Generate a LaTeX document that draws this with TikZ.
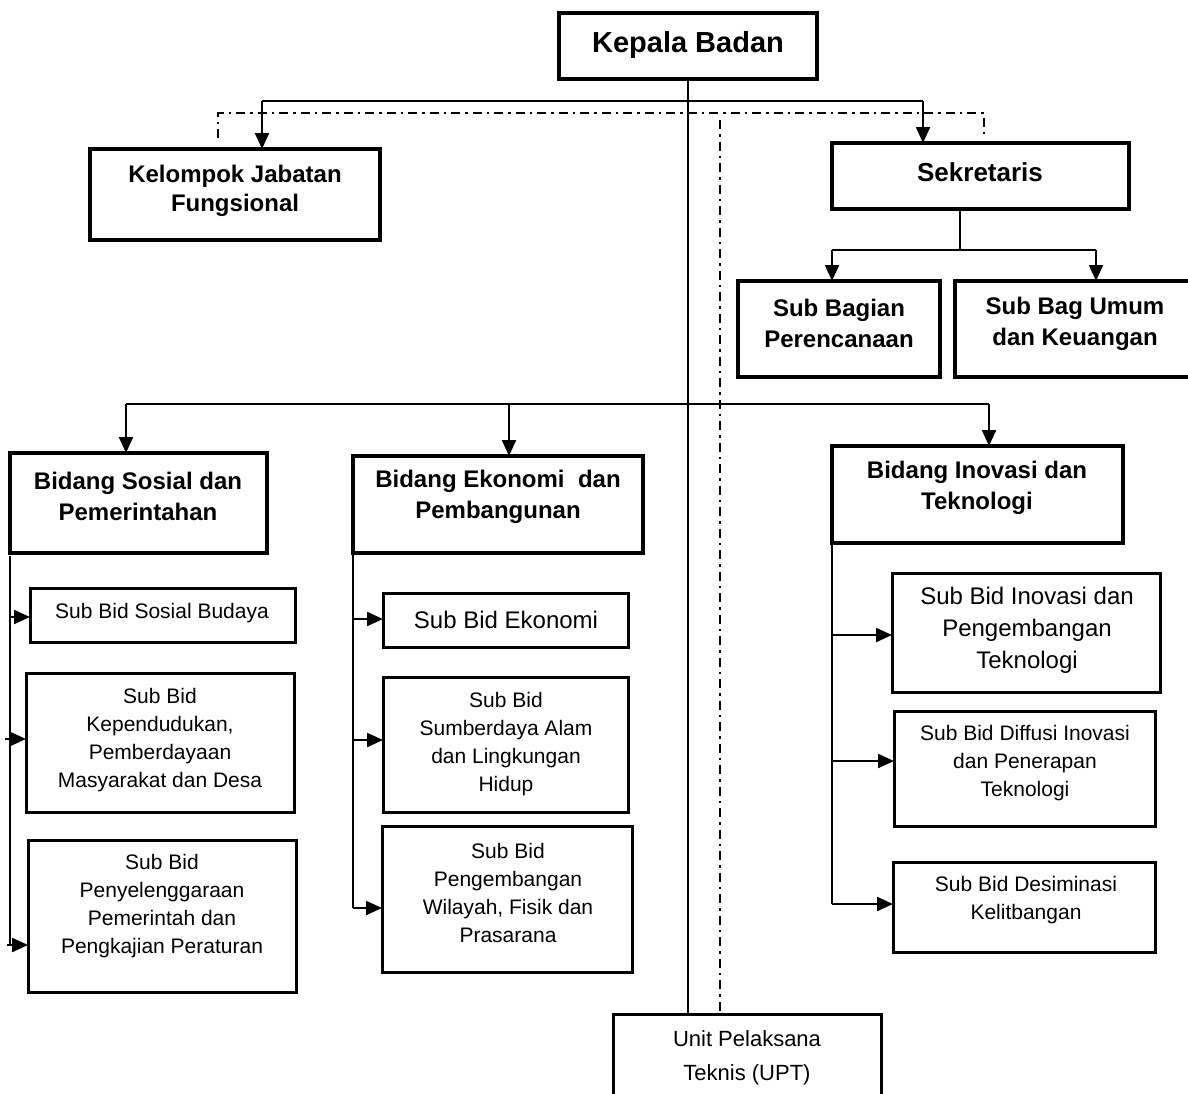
\documentclass[tikz,border=0pt]{standalone}
\usepackage{fontspec}
\setmainfont{Liberation Sans}
\usetikzlibrary{arrows.meta}
\newcommand{\orgbox}[6][]{\node[boxstyle,#1,anchor=north west,minimum width={#5-#3},minimum height={#6-#4}] (#2) at (#3,#4) {};}
\tikzset{
  boxstyle/.style={draw=black,line width=3.4pt,inner sep=0pt,outer sep=0pt,fill=white},
  conn/.style={draw=black,line width=2.2pt},
  arr/.style={conn,-{Triangle[length=16pt,width=14pt]}},
  dd/.style={draw=black,line width=2pt,dash pattern=on 9pt off 5pt on 2.5pt off 5pt},
  bt/.style={align=center,inner sep=0pt,font=\fontsize{24}{31}\selectfont\bfseries},
  rt/.style={align=center,inner sep=0pt,font=\fontsize{21}{28}\selectfont},
  rtl/.style={align=center,inner sep=0pt,font=\fontsize{24}{32}\selectfont},
}
\begin{document}
\begin{tikzpicture}[x=1pt,y=-1pt]
\useasboundingbox (0,0) rectangle (1188,1093);
\clip (0,0) rectangle (1188,1093);
\fill[white] (0,0) rectangle (1188,1093);

% connector coordinates
\coordinate (h1l) at (262,101);
\coordinate (h1r) at (923,101);
\coordinate (kjfin) at (262,149);
\coordinate (sekin) at (923,143);
\coordinate (ddl) at (218,138);
\coordinate (ddlt) at (218,113);
\coordinate (ddrt) at (984,113);
\coordinate (ddr) at (984,138);
\coordinate (ddv) at (720,120);
\coordinate (ddvb) at (720,1014);
\coordinate (sekout) at (960,209);
\coordinate (s2) at (960,250);
\coordinate (s2l) at (832,250);
\coordinate (s2r) at (1096,250);
\coordinate (sbpin) at (832,281);
\coordinate (sbuin) at (1096,281);
\coordinate (bl) at (126,404);
\coordinate (bm) at (509,404);
\coordinate (br) at (989,404);
\coordinate (bspin) at (126,453);
\coordinate (bepin) at (509,456);
\coordinate (bitin) at (989,446);
\coordinate (lv1) at (10,556);
\coordinate (lv2) at (10,945);
\coordinate (la1) at (10,617);
\coordinate (la2) at (5,739);
\coordinate (la3) at (7,945);
\coordinate (mv1) at (353,553);
\coordinate (mv2) at (353,908);
\coordinate (ma1) at (353,619);
\coordinate (ma2) at (353,740);
\coordinate (ma3) at (353,908);
\coordinate (rv1) at (832,543);
\coordinate (rv2) at (832,904);
\coordinate (ra1) at (832,635);
\coordinate (ra2) at (832,761);
\coordinate (ra3) at (832,904);

% boxes
\orgbox{kb}{559}{13}{817}{79}
\orgbox{kjf}{90}{149}{380}{240}
\orgbox[line width=4pt]{sek}{832}{143}{1129}{209}
\orgbox{sbp}{738}{281}{940}{377}
\orgbox{sbu}{955}{281}{1196}{377}
\orgbox{bsp}{10}{453}{267}{553}
\orgbox{bep}{353}{456}{643}{553}
\orgbox{bit}{832}{446}{1123}{543}
\orgbox[line width=3pt]{ssb}{30}{588}{295}{642}
\orgbox[line width=3pt]{skp}{26}{673}{294}{812}
\orgbox[line width=3pt]{spp}{28}{840}{296}{992}
\orgbox[line width=3pt]{sbe}{383}{593}{628}{647}
\orgbox[line width=3pt]{ssa}{383}{677}{628}{812}
\orgbox[line width=3pt]{spw}{382}{826}{632}{972}
\orgbox[line width=3pt]{sip}{892}{573}{1160}{692}
\orgbox[line width=3pt]{sdi}{894}{711}{1155}{826}
\orgbox[line width=3pt]{sdk}{893}{862}{1155}{952}
\orgbox[line width=3pt]{upt}{613}{1014}{881}{1120}

% connectors
\draw[conn] (kb.south) -- (kb.south |- upt.north);
\draw[conn] (h1l) -- (h1r);
\draw[arr] (h1l) -- (kjfin);
\draw[arr] (h1r) -- (sekin);
\draw[dd] (ddl) -- (ddlt) -- (ddrt) -- (ddr);
\draw[dd] (ddv) -- (ddvb);
\draw[conn] (sekout) -- (s2);
\draw[conn] (s2l) -- (s2r);
\draw[arr] (s2l) -- (sbpin);
\draw[arr] (s2r) -- (sbuin);
\draw[conn] (bl) -- (br);
\draw[arr] (bl) -- (bspin);
\draw[arr] (bm) -- (bepin);
\draw[arr] (br) -- (bitin);
\draw[conn] (lv1) -- (lv2);
\draw[arr] (la1) -- (la1 -| ssb.west);
\draw[arr] (la2) -- (la2 -| skp.west);
\draw[arr] (la3) -- (la3 -| spp.west);
\draw[conn] (mv1) -- (mv2);
\draw[arr] (ma1) -- (ma1 -| sbe.west);
\draw[arr] (ma2) -- (ma2 -| ssa.west);
\draw[arr] (ma3) -- (ma3 -| spw.west);
\draw[conn] (rv1) -- (rv2);
\draw[arr] (ra1) -- (ra1 -| sip.west);
\draw[arr] (ra2) -- (ra2 -| sdi.west);
\draw[arr] (ra3) -- (ra3 -| sdk.west);

% texts
\node[bt,font=\fontsize{29}{34}\selectfont\bfseries] (tkb) at (688,45) {Kepala Badan};
\node[bt,font=\fontsize{24}{29}\selectfont\bfseries] (tkjf) at (235,191) {Kelompok Jabatan\\Fungsional};
\node[bt,font=\fontsize{26}{31}\selectfont\bfseries] (tsek) at (980,172) {Sekretaris};
\node[bt] (tsbp) at (839,323) {Sub Bagian\\Perencanaan};
\node[bt] (tsbu) at (1075,324) {Sub Bag Umum\\dan Keuangan};
\node[bt] (tbsp) at (138,496) {Bidang Sosial dan\\Pemerintahan};
\node[bt] (tbep) at (498,497) {Bidang Ekonomi\ \ dan\\Pembangunan};
\node[bt] (tbit) at (977,488) {Bidang Inovasi dan\\Teknologi};
\node[rt] (tssb) at (162,613) {Sub Bid Sosial Budaya};
\node[rt] (tskp) at (160,740) {Sub Bid\\Kependudukan,\\Pemberdayaan\\Masyarakat dan Desa};
\node[rt] (tspp) at (162,906) {Sub Bid\\Penyelenggaraan\\Pemerintah dan\\Pengkajian Peraturan};
\node[rtl] (tsbe) at (506,620) {Sub Bid Ekonomi};
\node[rt] (tssa) at (506,744) {Sub Bid\\Sumberdaya Alam\\dan Lingkungan\\Hidup};
\node[rt] (tspw) at (508,893) {Sub Bid\\Pengembangan\\Wilayah, Fisik dan\\Prasarana};
\node[rtl] (tsip) at (1027,630) {Sub Bid Inovasi dan\\Pengembangan\\Teknologi};
\node[rt] (tsdi) at (1025,763) {Sub Bid Diffusi Inovasi\\dan Penerapan\\Teknologi};
\node[rt] (tsdk) at (1026,900) {Sub Bid Desiminasi\\Kelitbangan};
\node[rt,font=\fontsize{22}{34}\selectfont] (tupt) at (747,1058) {Unit Pelaksana\\Teknis (UPT)};
\end{tikzpicture}
\end{document}
